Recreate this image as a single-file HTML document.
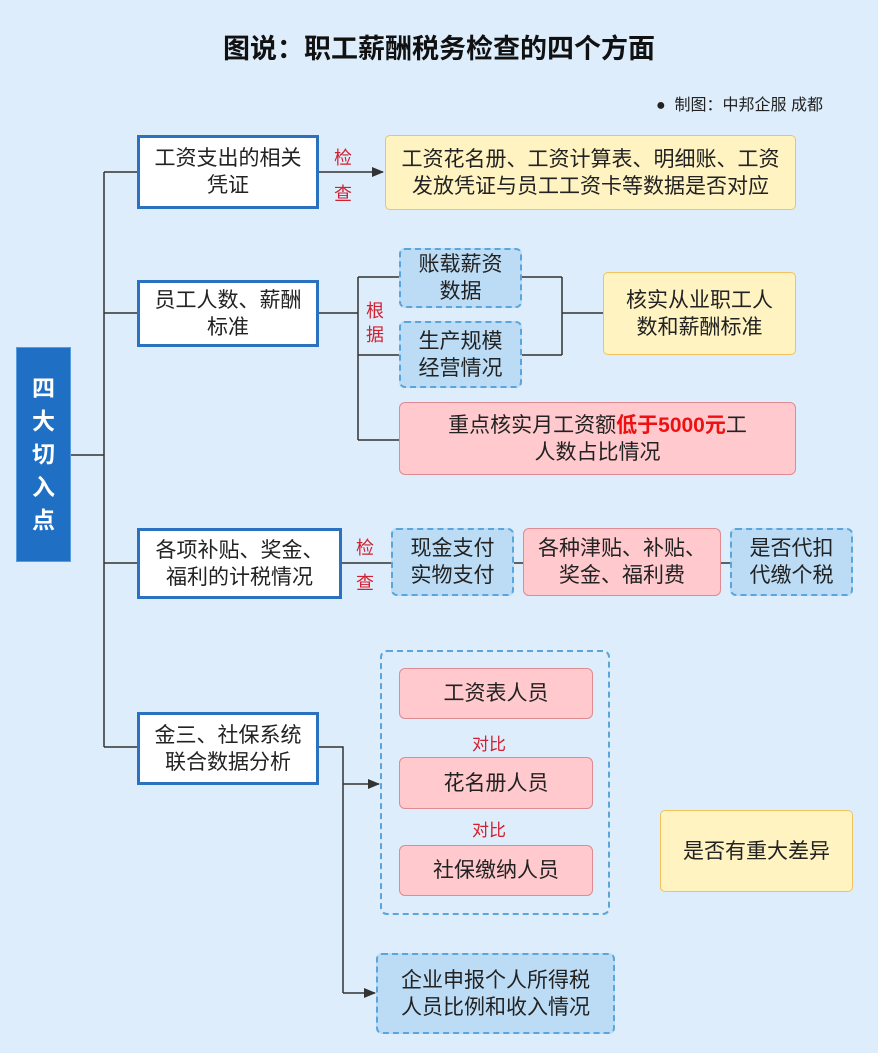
<!DOCTYPE html>
<html><head><meta charset="utf-8"><style>
body{margin:0;width:878px;height:1053px;background:#ddedfb;font-family:"Liberation Sans","Noto Sans CJK SC",sans-serif;position:relative;overflow:hidden}
.b{position:absolute;display:flex;align-items:center;justify-content:center;text-align:center;font-size:21px;line-height:27px;color:#222;box-sizing:border-box}
.w{background:#fff;border:3px solid #2a72c0}
.y{background:#fff3c2;border:1.5px solid #f0c260;border-radius:5px}
.d{background:#bcdcf5;border:2px dashed #5aa6dc;border-radius:6px}
.p{background:#ffc9cd;border:1.5px solid #e08a92;border-radius:6px}
.r{position:absolute;color:#d22030;font-size:18px}
</style></head><body>
<div style="position:absolute;left:0;width:878px;top:27px;text-align:center;font-size:27px;font-weight:bold;color:#111">图说：职工薪酬税务检查的四个方面</div>
<div style="position:absolute;left:656px;top:91px;font-size:16px;color:#222">●&nbsp; 制图：中邦企服 成都</div>
<svg width="878" height="1053" style="position:absolute;left:0;top:0">
<defs><marker id="a" markerWidth="12" markerHeight="10" refX="11" refY="5" orient="auto" markerUnits="userSpaceOnUse"><path d="M0,0 L12,5 L0,10z" fill="#333"/></marker></defs>
<g stroke="#333" stroke-width="1.5" fill="none">
<path d="M70,455H104M104,172V747M104,172H137M104,313H137M104,563H137M104,747H137"/>
<path d="M318,172H383" marker-end="url(#a)"/>
<path d="M318,313H358M358,277V440M358,277H399M358,355H399M358,440H399"/>
<path d="M522,277H562M522,355H562M562,277V355M562,313H603"/>
<path d="M341,563H391M514,563H523M721,563H730"/>
<path d="M318,747H343V993"/>
<path d="M343,784H379" marker-end="url(#a)"/>
<path d="M343,993H375" marker-end="url(#a)"/>
</g></svg>
<div class="b" style="left:16px;top:347px;width:55px;height:215px;background:#1f6fc5;color:#fff;font-weight:bold;font-size:23px;line-height:33px;border:1px solid #5a9be0"><span>四<br>大<br>切<br>入<br>点</span></div>
<div class="b w" style="left:137px;top:135px;width:182px;height:74px"><span>工资支出的相关<br>凭证</span></div>
<div class="b w" style="left:137px;top:280px;width:182px;height:67px"><span>员工人数、薪酬<br>标准</span></div>
<div class="b w" style="left:137px;top:528px;width:205px;height:71px"><span>各项补贴、奖金、<br>福利的计税情况</span></div>
<div class="b w" style="left:137px;top:712px;width:182px;height:73px"><span>金三、社保系统<br>联合数据分析</span></div>
<div class="r" style="left:334px;top:144px">检</div><div class="r" style="left:334px;top:180px">查</div>
<div class="r" style="left:366px;top:297px">根</div><div class="r" style="left:366px;top:321px">据</div>
<div class="r" style="left:356px;top:534px">检</div><div class="r" style="left:356px;top:569px">查</div>
<div class="b y" style="left:385px;top:135px;width:411px;height:75px"><span>工资花名册、工资计算表、明细账、工资<br>发放凭证与员工工资卡等数据是否对应</span></div>
<div class="b d" style="left:399px;top:248px;width:123px;height:60px"><span>账载薪资<br>数据</span></div>
<div class="b d" style="left:399px;top:321px;width:123px;height:67px"><span>生产规模<br>经营情况</span></div>
<div class="b y" style="left:603px;top:272px;width:193px;height:83px"><span>核实从业职工人<br>数和薪酬标准</span></div>
<div class="b p" style="left:399px;top:402px;width:397px;height:73px"><span>重点核实月工资额<b style="color:#ee1111">低于5000元</b>工<br>人数占比情况</span></div>
<div class="b d" style="left:391px;top:528px;width:123px;height:68px"><span>现金支付<br>实物支付</span></div>
<div class="b p" style="left:523px;top:528px;width:198px;height:68px"><span>各种津贴、补贴、<br>奖金、福利费</span></div>
<div class="b d" style="left:730px;top:528px;width:123px;height:68px"><span>是否代扣<br>代缴个税</span></div>
<div style="position:absolute;left:380px;top:650px;width:230px;height:265px;border:2px dashed #5aa6dc;border-radius:7px;box-sizing:border-box"></div>
<div class="b p" style="left:399px;top:668px;width:194px;height:51px">工资表人员</div>
<div class="r" style="left:472px;top:730px;font-size:17px">对比</div>
<div class="b p" style="left:399px;top:757px;width:194px;height:52px">花名册人员</div>
<div class="r" style="left:472px;top:816px;font-size:17px">对比</div>
<div class="b p" style="left:399px;top:845px;width:194px;height:51px">社保缴纳人员</div>
<div class="b d" style="left:376px;top:953px;width:239px;height:81px"><span>企业申报个人所得税<br>人员比例和收入情况</span></div>
<div class="b y" style="left:660px;top:810px;width:193px;height:82px">是否有重大差异</div>
</body></html>
